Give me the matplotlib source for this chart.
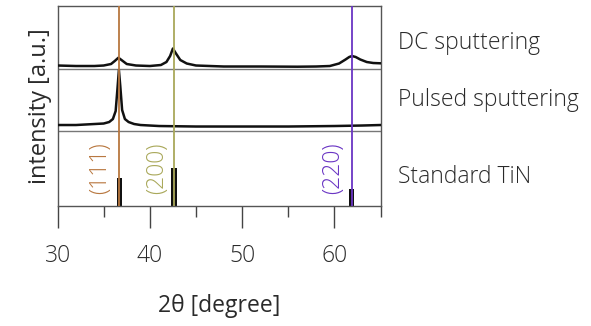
import numpy as np
import matplotlib.pyplot as plt
from matplotlib.ticker import MultipleLocator
import matplotlib.transforms as mtransforms

plt.rcParams['font.family'] = ['Open Sans', 'DejaVu Sans']
plt.rcParams['font.weight'] = 'light'

# DC sputtering pattern (2theta, intensity offset in panel units)
dc_tt = [30, 32, 34, 35, 35.8, 36.2, 36.6, 37.0, 37.5, 38.5, 40, 41.2, 41.8, 42.2, 42.5,
         42.8, 43.3, 44, 45, 48, 52, 56, 58, 59.5, 60.5, 61.2, 61.6, 61.9, 62.3, 62.8,
         63.5, 64.2, 65]
dc_int = [140.5, 140, 140, 140.5, 142, 145, 148.3, 145.5, 142, 140.5, 140, 141, 144, 150,
          157.5, 153, 146, 142.5, 140.5, 139.5, 139.5, 139.3, 139.5, 140, 142.5, 146.5, 149,
          150, 149, 146.5, 144, 143, 142.7]

# pulsed sputtering pattern
p_tt = [30, 32, 34, 35, 35.6, 36.0, 36.3, 36.5, 36.65, 36.8, 37.0, 37.3, 37.7, 38.3, 39,
        41, 45, 50, 55, 60, 63, 65]
p_int = [81, 81, 82, 82.5, 84, 87, 95, 118, 136, 120, 96, 87, 84, 82, 81,
         80, 79.5, 79.5, 79.5, 80, 80.5, 81]

# standard TiN reference peaks
std_pos = [36.7, 42.6, 61.85]
std_int = [28, 38, 17]
std_labels = ['(111)', '(200)', '(220)']
std_colors = ['#b8773f', '#a9a85a', '#6a35c4']
label_x = [34.6, 40.8, 59.9]

sep_y = [75, 136.7]
panel_names = ['DC sputtering', 'Pulsed sputtering', 'Standard TiN']
panel_y = [163, 106, 29]

fig = plt.figure(figsize=(5.91, 3.26), dpi=100)
ax = fig.add_axes([0.0973, 0.368, 0.5467, 0.6136])

for y in sep_y:
    ax.axhline(y, color='#777777', lw=1.0, zorder=1)

ax.plot(dc_tt, dc_int, color='#111111', lw=1.8, zorder=3)
ax.plot(p_tt, p_int, color='#111111', lw=1.8, zorder=3)

ax.bar(std_pos, std_int, width=0.6, color='#111111', zorder=2)
for pos, lab, c, lx in zip(std_pos, std_labels, std_colors, label_x):
    ax.axvline(pos, color=c, lw=1.3, zorder=4)
    ax.text(lx, 38, lab, color=c, rotation=90, ha='center', va='center', fontsize=16.5)

trans = mtransforms.blended_transform_factory(ax.transAxes, ax.transData)
for name, y in zip(panel_names, panel_y):
    ax.text(1.054, y, name, transform=trans, ha='left', va='center',
            fontsize=16.5, color='#2a2a2a')

ax.set_xlim(30, 65)
ax.set_ylim(0, 200)
ax.set_yticks([])
ax.xaxis.set_major_locator(MultipleLocator(10))
ax.xaxis.set_minor_locator(MultipleLocator(5))
ax.tick_params(axis='x', which='major', direction='out', length=16, width=1,
               colors='#444444', labelsize=16.5, pad=11, labelcolor='#2a2a2a')
ax.tick_params(axis='x', which='minor', direction='out', length=8, width=1, colors='#444444')
for s in ax.spines.values():
    s.set_color('#555555')
    s.set_linewidth(1.0)

ax.set_xlabel('2θ [degree]', fontsize=16.5, color='#2a2a2a', labelpad=19)
ax.set_ylabel('intensity [a.u.]', fontsize=17, color='#2a2a2a', labelpad=4)

fig.savefig('out.png', dpi=100)
